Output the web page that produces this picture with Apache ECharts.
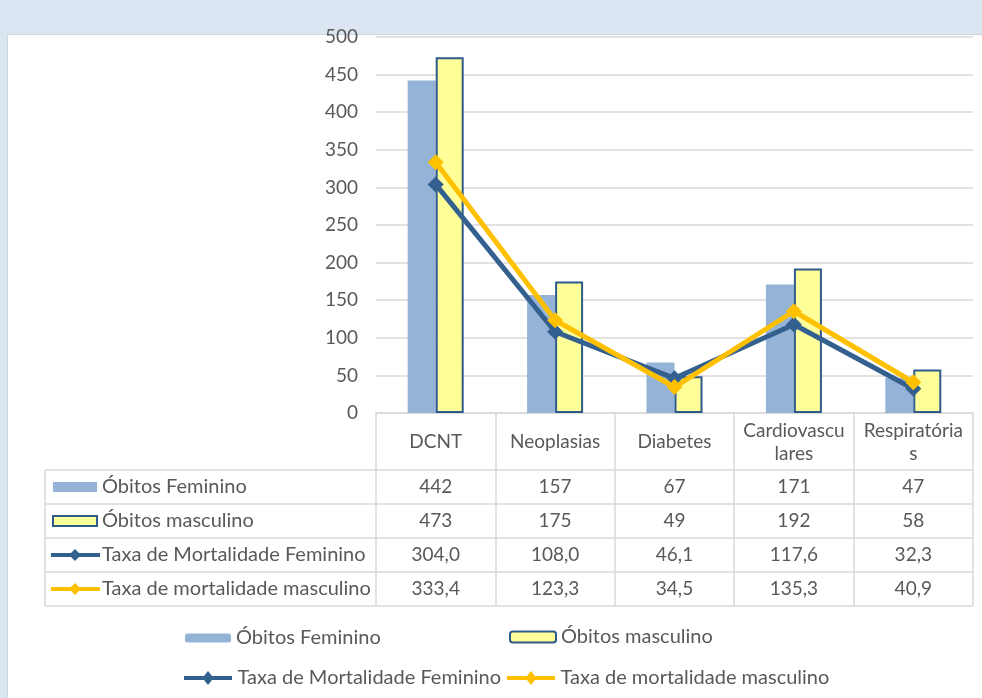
<!DOCTYPE html>
<html>
<head>
<meta charset="utf-8">
<script src="https://cdn.jsdelivr.net/npm/echarts@6/dist/echarts.min.js"></script>
<style>
  html, body { margin: 0; padding: 0; background: #dce6f2; }
  #wrap { position: relative; width: 982px; height: 698px; overflow: hidden; }
  #panel { position: absolute; left: 7px; top: 34px; right: 0; bottom: 0; background: #fff;
           border-left: 1px solid #cfd6df; border-top: 1px solid #cfd6df; }
  #chart { position: absolute; left: 0; top: 0; width: 982px; height: 698px; }
</style>
</head>
<body>
<div id="wrap">
  <div id="panel"></div>
  <div id="chart"></div>
</div>
<script>
// Causes of death (chronic non-communicable diseases) by sex
const categories = ['DCNT', 'Neoplasias', 'Diabetes', 'Cardiovasculares', 'Respiratórias'];
const obitosFeminino = [442, 157, 67, 171, 47];
const obitosMasculino = [473, 175, 49, 192, 58];
const taxaFeminino = [304.0, 108.0, 46.1, 117.6, 32.3];
const taxaMasculino = [333.4, 123.3, 34.5, 135.3, 40.9];
const seriesNames = [
  'Óbitos Feminino',
  'Óbitos masculino',
  'Taxa de Mortalidade Feminino',
  'Taxa de mortalidade masculino'
];
const yMin = 0, yMax = 500, yStep = 50;

const FONT = 'Lato, "Noto Sans", sans-serif';
const TXT = '#595959';
const GRID = '#d9d9d9';
const C_FEM_BAR = '#95b3d7';
const C_MAS_BAR = '#ffff99';
const C_MAS_EDGE = '#2f5b8c';
const C_FEM_LINE = '#33608f';
const C_MAS_LINE = '#ffc000';

// line-with-diamond key used for the rate series in the legend
const LINE_KEY = 'path://M0,5L20,5L24,0L28,5L48,5L48,9L28,9L24,14L20,9L0,9Z';

// header cell wrap widths (the cell text wraps inside its column)
const HEADER_WRAP_DEFAULT = 111;
const HEADER_WRAP_NARROW = { 'Cardiovasculares': 103 };

// data table geometry (below the category axis)
const HEADER_H = 57;
const ROW_H = 34;
const TABLE_LEFT = 45;
const rowsData = [obitosFeminino, obitosMasculino, taxaFeminino, taxaMasculino];
const fmt = [v => String(v), v => String(v),
             v => v.toFixed(1).replace('.', ','), v => v.toFixed(1).replace('.', ',')];

const chart = echarts.init(document.getElementById('chart'), null, { renderer: 'canvas' });

function legendAt(name, left, top, w, h, icon) {
  const item = icon ? { name: name, icon: icon } : { name: name };
  return {
    data: [item], left: left, top: top, orient: 'horizontal',
    itemWidth: w, itemHeight: h, itemGap: 0, padding: 0,
    selectedMode: false,
    textStyle: { color: TXT, fontFamily: FONT, fontSize: 20, padding: [0, 0, 0, 0] }
  };
}

const headerLabelStyle = {
  color: TXT, fontFamily: FONT, fontSize: 19, lineHeight: 23,
  verticalAlign: 'middle', align: 'center', overflow: 'breakAll'
};

const option = {
  animation: false,
  backgroundColor: 'transparent',
  textStyle: { fontFamily: FONT },
  grid: { left: 376, right: 9, top: 37, bottom: 285, containLabel: false },
  legend: [
    legendAt(seriesNames[0], 185, 628, 46, 9),
    legendAt(seriesNames[1], 509, 627, 46, 11),
    legendAt(seriesNames[2], 184, 668, 49, 14, LINE_KEY),
    legendAt(seriesNames[3], 507, 668, 49, 14, LINE_KEY)
  ],
  xAxis: {
    type: 'category',
    data: categories.map(c => ({
      value: c,
      textStyle: Object.assign({}, headerLabelStyle, { width: HEADER_WRAP_NARROW[c] || HEADER_WRAP_DEFAULT })
    })),
    boundaryGap: true,
    axisLine: { show: true, lineStyle: { color: GRID, width: 1.5 } },
    axisTick: { show: true, interval: 0, length: HEADER_H + ROW_H * 4, lineStyle: { color: GRID, width: 1.5 } },
    axisLabel: Object.assign({ interval: 0, margin: 29, width: HEADER_WRAP_DEFAULT }, headerLabelStyle)
  },
  yAxis: {
    type: 'value', min: yMin, max: yMax, interval: yStep,
    axisLine: { show: false }, axisTick: { show: false },
    axisLabel: { color: TXT, fontFamily: FONT, fontSize: 19, margin: 18 },
    splitLine: { lineStyle: { color: GRID, width: 1.5 } }
  },
  series: [
    {
      name: seriesNames[0], type: 'bar', data: obitosFeminino,
      barWidth: 28, barGap: '0%',
      itemStyle: { color: C_FEM_BAR }
    },
    {
      name: seriesNames[1], type: 'bar', data: obitosMasculino,
      barWidth: 28,
      itemStyle: { color: C_MAS_BAR, borderColor: C_MAS_EDGE, borderWidth: 2 }
    },
    {
      name: seriesNames[2], type: 'line', data: taxaFeminino,
      symbol: 'diamond', symbolSize: 16,
      itemStyle: { color: C_FEM_LINE },
      lineStyle: { color: C_FEM_LINE, width: 5 }
    },
    {
      name: seriesNames[3], type: 'line', data: taxaMasculino,
      symbol: 'diamond', symbolSize: 16,
      itemStyle: { color: C_MAS_LINE },
      lineStyle: { color: C_MAS_LINE, width: 5 }
    }
  ]
};
chart.setOption(option);

// Build the data table from the same arrays, placed on the category axis positions
function buildTable() {
  const y0 = chart.convertToPixel({ yAxisIndex: 0 }, yMin);
  const xL = chart.convertToPixel({ xAxisIndex: 0 }, 0);
  const step = chart.convertToPixel({ xAxisIndex: 0 }, 1) - xL;
  const axisLeft = xL - step / 2;
  const axisRight = axisLeft + step * categories.length;
  const top = y0 + HEADER_H;
  const els = [];
  const line = (x1, y1, x2, y2) => ({
    type: 'line', silent: true,
    shape: { x1, y1, x2, y2 },
    style: { stroke: GRID, lineWidth: 1.5 }
  });
  for (let r = 0; r <= rowsData.length; r++) {
    const y = top + r * ROW_H;
    els.push(line(TABLE_LEFT, y, axisRight, y));
  }
  els.push(line(TABLE_LEFT, top, TABLE_LEFT, top + ROW_H * rowsData.length));

  rowsData.forEach((row, r) => {
    const cy = top + r * ROW_H + ROW_H / 2;
    row.forEach((v, i) => {
      els.push({
        type: 'text', silent: true,
        x: chart.convertToPixel({ xAxisIndex: 0 }, i), y: cy,
        style: { text: fmt[r](v), fill: TXT, font: '19px ' + FONT, align: 'center', verticalAlign: 'middle' }
      });
    });
    els.push({
      type: 'text', silent: true, x: TABLE_LEFT + 57, y: cy,
      style: { text: seriesNames[r], fill: TXT, font: '20px ' + FONT, align: 'left', verticalAlign: 'middle' }
    });
    // legend keys inside the table
    if (r === 0) {
      els.push({ type: 'rect', silent: true, shape: { x: TABLE_LEFT + 8, y: cy - 5, width: 44, height: 10 },
                 style: { fill: C_FEM_BAR } });
    } else if (r === 1) {
      els.push({ type: 'rect', silent: true, shape: { x: TABLE_LEFT + 8, y: cy - 5, width: 44, height: 10 },
                 style: { fill: C_MAS_BAR, stroke: C_MAS_EDGE, lineWidth: 2 } });
    } else {
      const col = r === 2 ? C_FEM_LINE : C_MAS_LINE;
      els.push({ type: 'line', silent: true,
                 shape: { x1: TABLE_LEFT + 6, y1: cy, x2: TABLE_LEFT + 55, y2: cy },
                 style: { stroke: col, lineWidth: 4 } });
      const cx = TABLE_LEFT + 30;
      els.push({ type: 'polygon', silent: true,
                 shape: { points: [[cx, cy - 6], [cx + 6, cy], [cx, cy + 6], [cx - 6, cy]] },
                 style: { fill: col } });
    }
  });
  chart.setOption({ graphic: { elements: els } });
}
buildTable();
</script>
</body>
</html>
